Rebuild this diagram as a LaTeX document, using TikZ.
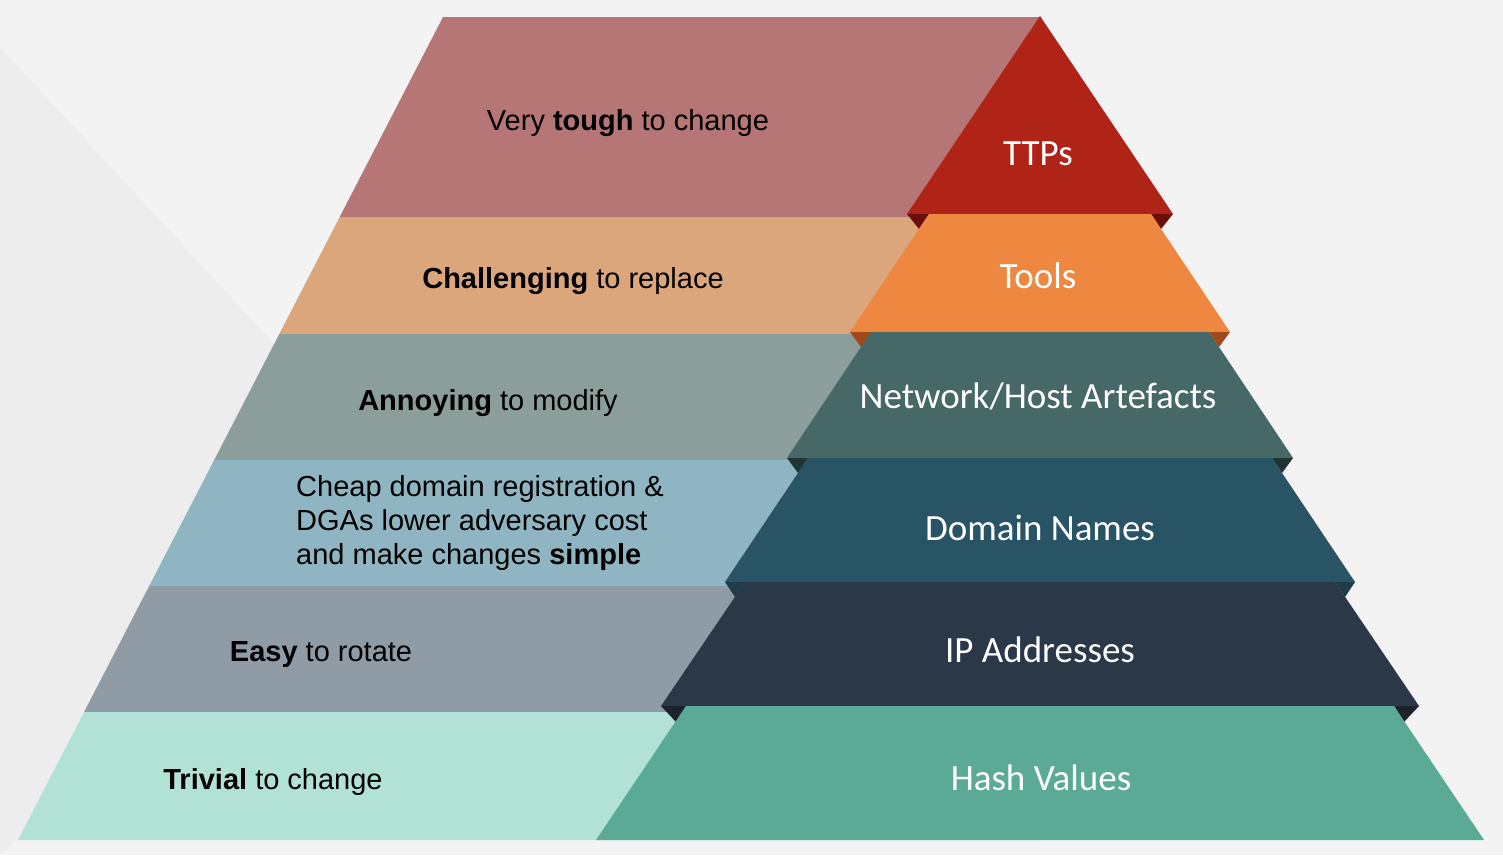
\documentclass[tikz,border=0pt]{standalone}
\usepackage{fontspec}
\setmainfont{Liberation Sans}
\newfontfamily\levelfont{Carlito}
\definecolor{BgLight}{HTML}{F3F3F3}
\definecolor{BgShade}{HTML}{EDEDED}
\definecolor{ToughBg}{HTML}{B57675}
\definecolor{ChallengeBg}{HTML}{DCA67D}
\definecolor{AnnoyBg}{HTML}{8B9E9B}
\definecolor{CheapBg}{HTML}{8EB5C1}
\definecolor{EasyBg}{HTML}{8F9BA5}
\definecolor{TrivialBg}{HTML}{B2E1D6}
\definecolor{TtpCol}{HTML}{B02418}
\definecolor{ToolCol}{HTML}{EE873F}
\definecolor{NetCol}{HTML}{466866}
\definecolor{DomCol}{HTML}{285465}
\definecolor{IpCol}{HTML}{2B3848}
\definecolor{HashCol}{HTML}{5AAA95}
\definecolor{TtpFold}{HTML}{6B0F0B}
\definecolor{ToolFold}{HTML}{9E4A1C}
\definecolor{NetFold}{HTML}{1F3433}
\definecolor{DomFold}{HTML}{1E3D48}
\definecolor{IpFold}{HTML}{1C232D}
\tikzstyle{BandText}=[anchor=base, text=black, inner sep=0pt, font=\fontsize{29}{34}\selectfont]
\tikzstyle{LevelText}=[anchor=base, text=white, inner sep=0pt, font=\levelfont\fontsize{37}{42}\selectfont]

\begin{document}
\begin{tikzpicture}[x=1pt, y=-1pt]
\useasboundingbox (0,0) rectangle (1503,855);
% background
\fill[BgLight] (0,0) rectangle (1503,855);
\fill[BgShade] (0,47) -- (400,480) -- (0,855) -- cycle;

% left bands
\fill[ToughBg] (443,17) -- (1040,17) -- (1040,217) -- (339.7,217) -- cycle;
\fill[ChallengeBg] (339.7,217) -- (1040,217) -- (1040,334) -- (279.3,334) -- cycle;
\fill[AnnoyBg] (279.3,334) -- (1040,334) -- (1040,460) -- (214.2,460) -- cycle;
\fill[CheapBg] (214.2,460) -- (1040,460) -- (1040,586) -- (149.2,586) -- cycle;
\fill[EasyBg] (149.2,586) -- (1040,586) -- (1040,712) -- (84.1,712) -- cycle;
\fill[TrivialBg] (84.1,712) -- (1040,712) -- (1040,840) -- (18,840) -- cycle;

% pyramid
\fill[TtpCol] (1040,16) -- (1173,214) -- (907,214) -- cycle;
\fill[TtpFold] (907,214) -- (929,214) -- (919,229) -- cycle;
\fill[TtpFold] (1173,214) -- (1151,214) -- (1161,229) -- cycle;
\fill[ToolCol] (929,214) -- (1151,214) -- (1230,332) -- (850,332) -- cycle;
\fill[ToolFold] (850,332) -- (871,332) -- (861,347) -- cycle;
\fill[ToolFold] (1230,332) -- (1209,332) -- (1219,347) -- cycle;
\fill[NetCol] (871,332) -- (1209,332) -- (1293,458) -- (787,458) -- cycle;
\fill[NetFold] (787,458) -- (808,458) -- (798,473) -- cycle;
\fill[NetFold] (1293,458) -- (1272,458) -- (1282,473) -- cycle;
\fill[DomCol] (808,458) -- (1272,458) -- (1355,582) -- (725,582) -- cycle;
\fill[DomFold] (725,582) -- (745,582) -- (735,597) -- cycle;
\fill[DomFold] (1355,582) -- (1335,582) -- (1345,597) -- cycle;
\fill[IpCol] (745,582) -- (1335,582) -- (1419,706) -- (661,706) -- cycle;
\fill[IpFold] (661,706) -- (686,706) -- (676,722) -- cycle;
\fill[IpFold] (1419,706) -- (1394,706) -- (1404,722) -- cycle;
\fill[HashCol] (686,706) -- (1394,706) -- (1484,840) -- (596,840) -- cycle;

% left labels
\node[BandText](tough) at (628,130) {Very \textbf{tough} to change};
\node[BandText](challenging) at (573,288) {\textbf{Challenging} to replace};
\node[BandText](annoying) at (488,410) {\textbf{Annoying} to modify};
\node[BandText, anchor=west, align=left](cheap) at (296,523) {Cheap domain registration \&\\DGAs lower adversary cost\\and make changes \textbf{simple}};
\node[BandText](easy) at (321,661) {\textbf{Easy} to rotate};
\node[BandText](trivial) at (273,789) {\textbf{Trivial} to change};

% level labels
\node[LevelText](ttps) at (1038,165) {TTPs};
\node[LevelText](tools) at (1038,288) {Tools};
\node[LevelText](network) at (1038,408) {Network/Host Artefacts};
\node[LevelText](domain) at (1040,540) {Domain Names};
\node[LevelText](ipaddr) at (1040,662) {IP Addresses};
\node[LevelText](hash) at (1041,790) {Hash Values};
\end{tikzpicture}
\end{document}
